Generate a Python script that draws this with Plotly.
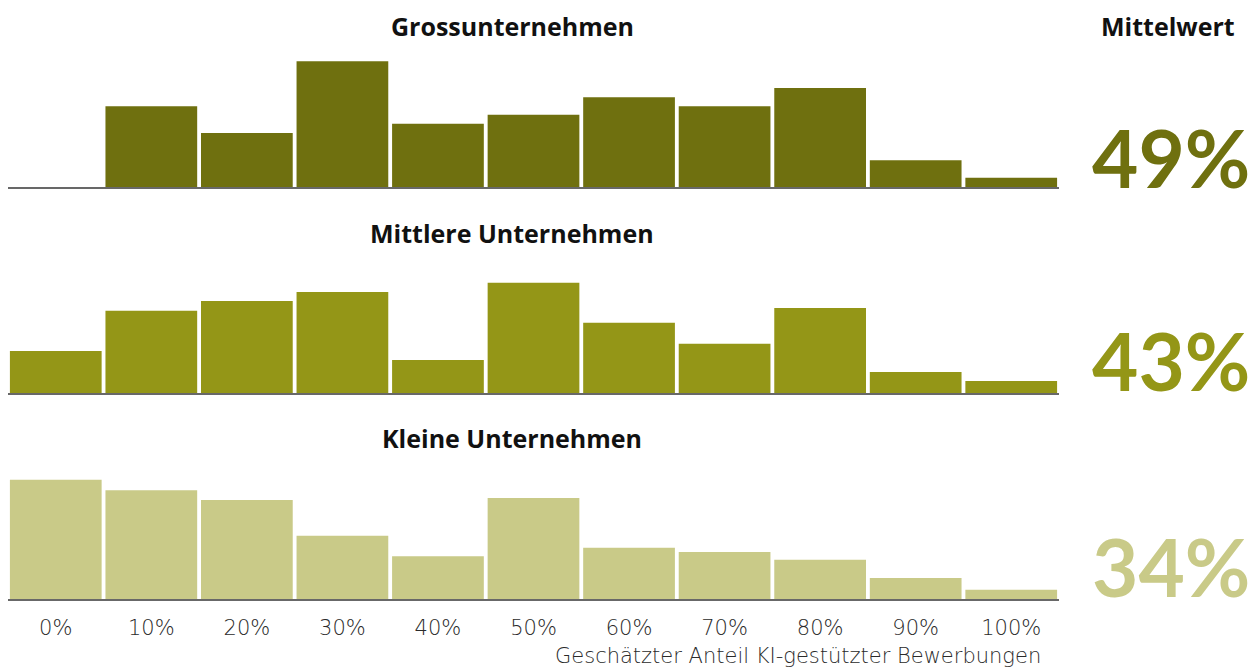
import plotly.graph_objects as go

# Anteil der Unternehmen (%) je geschätztem Anteil KI-gestützter Bewerbungen
categories = ["0%", "10%", "20%", "30%", "40%", "50%", "60%", "70%", "80%", "90%", "100%"]
gross = [0.0, 11.5, 7.7, 17.9, 9.0, 10.3, 12.8, 11.5, 14.1, 3.8, 1.3]
mittel = [6.0, 11.7, 13.1, 14.4, 4.7, 15.7, 10.0, 7.0, 12.1, 3.0, 1.7]
klein = [17.0, 15.5, 14.1, 9.0, 6.1, 14.4, 7.3, 6.7, 5.6, 3.0, 1.3]

panel_titles = ["Grossunternehmen", "Mittlere Unternehmen", "Kleine Unternehmen"]
means = ["49%", "43%", "34%"]
colors = ["#6f700f", "#949617", "#c9ca88"]
series = [gross, mittel, klein]

W, H = 1258, 670
FONT = "Lato"
TITLE_FONT = "Open Sans"
LIGHT_FONT = "DejaVu Sans"


def px_x(x):
    return x / W


def px_y(y):
    return 1 - y / H


# Pixel layout of each panel: baseline and top of the value axis
baselines = [187, 393, 599]
y_max = 18.5
px_per_unit = 7.02
panel_h = y_max * px_per_unit
x_left, x_right = 8, 1059

fig = go.Figure()
for i, (vals, col) in enumerate(zip(series, colors)):
    n = "" if i == 0 else str(i + 1)
    fig.add_trace(go.Bar(
        x=categories, y=vals, marker=dict(color=col, line=dict(width=0)),
        xaxis="x" + n, yaxis="y" + n, showlegend=False,
        hovertemplate="%{x}: %{y:.1f}%<extra></extra>",
    ))
    base = baselines[i]
    fig.update_layout(**{
        "xaxis" + n: dict(
            domain=[px_x(x_left), px_x(x_right)],
            anchor="y" + n, type="category", range=[-0.5, 10.5],
            showgrid=False, zeroline=False,
            showline=True, linecolor="rgba(40,40,40,0.7)", linewidth=2,
            ticks="", showticklabels=(i == 2),
            tickfont=dict(family=LIGHT_FONT, size=21, color="#2a2a2a", weight=200),
            ticklabelstandoff=9,
        ),
        "yaxis" + n: dict(
            domain=[px_y(base), px_y(base - panel_h)],
            anchor="x" + n, range=[0, y_max],
            visible=False, showgrid=False, zeroline=False,
        ),
    })

annotations = []
title_y = [26, 233, 438]
mean_y = [157, 360, 566]
for i in range(3):
    annotations.append(dict(
        text="<b>" + panel_titles[i] + "</b>", xref="paper", yref="paper",
        x=px_x(512), y=px_y(title_y[i]), xanchor="center", yanchor="middle",
        showarrow=False, font=dict(family=TITLE_FONT, size=25, color="#111111"),
    ))
    annotations.append(dict(
        text=means[i], xref="paper", yref="paper",
        x=px_x(1171), y=px_y(mean_y[i]), xanchor="center", yanchor="middle",
        showarrow=False, font=dict(family=FONT, size=80, color=colors[i], weight=700),
    ))
annotations.append(dict(
    text="<b>Mittelwert</b>", xref="paper", yref="paper",
    x=px_x(1168), y=px_y(26), xanchor="center", yanchor="middle",
    showarrow=False, font=dict(family=TITLE_FONT, size=25, color="#111111"),
))
annotations.append(dict(
    text="Geschätzter Anteil KI-gestützter Bewerbungen", xref="paper", yref="paper",
    x=px_x(1043), y=px_y(656), xanchor="right", yanchor="middle",
    showarrow=False, font=dict(family=LIGHT_FONT, size=21, color="#2a2a2a", weight=200),
))

fig.update_layout(
    width=W, height=H, autosize=False,
    margin=dict(l=0, r=0, t=0, b=0),
    paper_bgcolor="white", plot_bgcolor="white",
    bargap=0.04, annotations=annotations,
    font=dict(family=FONT),
)

fig.write_html("out.html")
